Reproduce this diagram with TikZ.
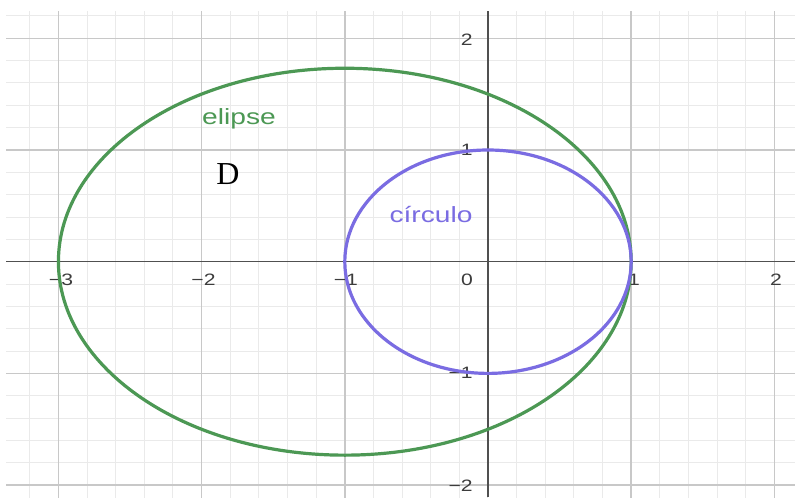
\documentclass[tikz,border=0pt]{standalone}
\usepackage{fontspec}
\setmainfont{Liberation Sans}
\newfontfamily\serifD{Liberation Serif}
\definecolor{ellcol}{RGB}{76,152,84}
\definecolor{circcol}{RGB}{122,108,226}
\definecolor{minorgrid}{RGB}{234,234,234}
\definecolor{majorgrid}{RGB}{200,200,200}
\definecolor{axiscol}{RGB}{80,80,80}
\definecolor{ticklab}{RGB}{60,60,60}
\tikzset{
  ticklabel/.style={font=\fontsize{16.5}{18}\selectfont, text=ticklab, inner sep=0pt, xscale=1.28},
  curvelabel/.style={font=\fontsize{22}{24}\selectfont, inner sep=0pt, anchor=base, xscale=1.28},
}
\begin{document}
\begin{tikzpicture}[x=143.2pt, y=111.7pt]
\useasboundingbox (-3.408,-2.107) rectangle (2.144,2.343);
\fill[white] (-3.408,-2.107) rectangle (2.144,2.343);
\begin{scope}
\clip (-3.366,-2.107) rectangle (2.144,2.244);
\foreach \i in {-17,...,11} {\draw[minorgrid, line width=1pt] (\i/5,-2.2) -- (\i/5,2.4);}
\foreach \j in {-11,...,12} {\draw[minorgrid, line width=1pt] (-3.4,\j/5) -- (2.2,\j/5);}
\foreach \i in {-3,-2,-1,1,2} {\draw[majorgrid, line width=1.4pt] (\i,-2.2) -- (\i,2.4);}
\foreach \j in {-2,-1,1,2} {\draw[majorgrid, line width=1.4pt] (-3.4,\j) -- (2.2,\j);}
\end{scope}
\coordinate (xl) at (-3.366,0);
\coordinate (xr) at (2.144,0);
\coordinate (yb) at (0,-2.107);
\coordinate (yt) at (0,2.244);
\draw[axiscol, line width=1.5pt] (xl) -- (xr);
\draw[axiscol, line width=1.5pt] (yb) -- (yt);
% tick labels
\node[ticklabel] (lxm3) at (-2.982,-0.164) {−3};
\node[ticklabel] (lxm2) at (-1.987,-0.164) {−2};
\node[ticklabel] (lxm1) at (-0.992,-0.164) {−1};
\node[ticklabel] (lx0) at (-0.147,-0.160) {0};
\node[ticklabel] (lx1) at (1.020,-0.164) {1};
\node[ticklabel] (lx2) at (2.011,-0.164) {2};
\node[ticklabel, anchor=east] (ly2) at (-0.105,1.985) {2};
\node[ticklabel, anchor=east] (ly1) at (-0.105,1.000) {1};
\node[ticklabel, anchor=east] (lym1) at (-0.105,-0.996) {−1};
\node[ticklabel, anchor=east] (lym2) at (-0.105,-2.008) {−2};
% curves
\draw[ellcol, line width=3.2pt] (-1,0) ellipse [x radius=2, y radius=1.732];
\draw[circcol, line width=3.2pt] (0,0) ellipse [x radius=1, y radius=1];
% labels
\node[curvelabel, text=ellcol] (lell) at (-1.739,1.224) {elipse};
\node[curvelabel, text=circcol] (lcirc) at (-0.398,0.355) {círculo};
\node[font=\serifD\fontsize{32}{34}\selectfont, anchor=base, inner sep=0pt] (lD) at (-1.816,0.687) {D};
\end{tikzpicture}
\end{document}
